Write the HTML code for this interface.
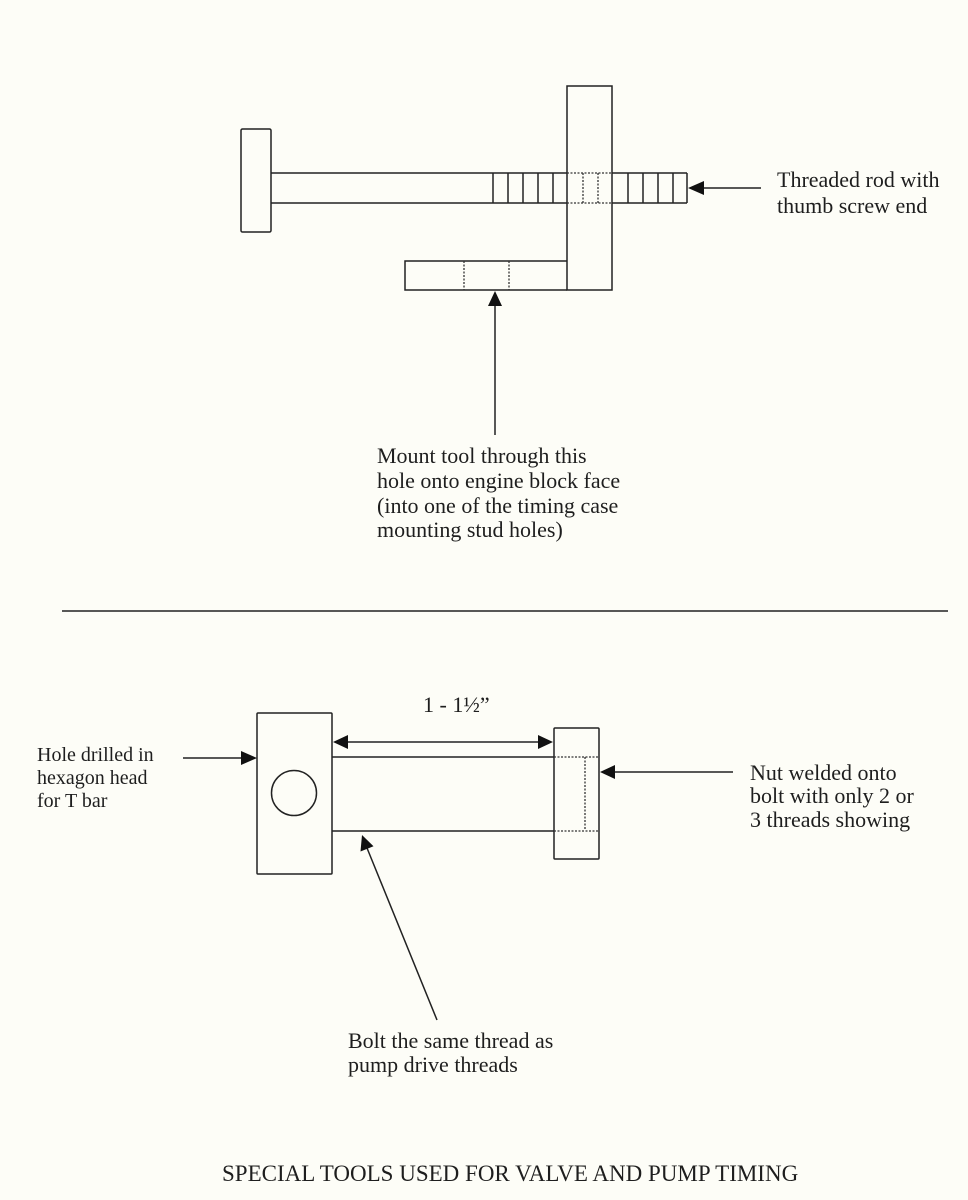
<!DOCTYPE html>
<html>
<head>
<meta charset="utf-8">
<style>
  html, body { margin: 0; padding: 0; background: #fdfdf7; }
  body { width: 968px; height: 1200px; overflow: hidden; }
  svg { display: block; }
  text { font-family: "Liberation Serif", "Times New Roman", serif; fill: #1e1e1e; }
</style>
</head>
<body>
<svg width="968" height="1200" viewBox="0 0 968 1200" xmlns="http://www.w3.org/2000/svg">
  <rect width="968" height="1200" fill="#fdfdf7"/>
  <g stroke="#222" stroke-width="1.5" fill="none">
    <!-- TOP TOOL -->
    <rect x="241" y="129" width="30" height="103" rx="1.5"/>
    <line x1="271" y1="173" x2="567" y2="173"/>
    <line x1="271" y1="203" x2="567" y2="203"/>
    <line x1="612" y1="173" x2="687" y2="173"/>
    <line x1="612" y1="203" x2="687" y2="203"/>
    <line x1="687" y1="173" x2="687" y2="203"/>
    <line x1="493" y1="173" x2="493" y2="203"/>
    <line x1="508" y1="173" x2="508" y2="203"/>
    <line x1="523" y1="173" x2="523" y2="203"/>
    <line x1="538" y1="173" x2="538" y2="203"/>
    <line x1="553" y1="173" x2="553" y2="203"/>
    <line x1="628" y1="173" x2="628" y2="203"/>
    <line x1="643" y1="173" x2="643" y2="203"/>
    <line x1="658" y1="173" x2="658" y2="203"/>
    <line x1="673" y1="173" x2="673" y2="203"/>
    <rect x="567" y="86" width="45" height="204"/>
    <polyline points="567,261 405,261 405,290 567,290"/>
  </g>
  <g stroke="#333" stroke-width="1.3" fill="none" stroke-dasharray="2,1.5">
    <line x1="567" y1="173" x2="612" y2="173"/>
    <line x1="567" y1="203" x2="612" y2="203"/>
    <line x1="583" y1="173" x2="583" y2="203"/>
    <line x1="598" y1="173" x2="598" y2="203"/>
    <line x1="464" y1="261" x2="464" y2="290"/>
    <line x1="509" y1="261" x2="509" y2="290"/>
  </g>
  <g stroke="#222" stroke-width="1.5">
    <line x1="700" y1="188" x2="761" y2="188"/>
    <line x1="495" y1="304" x2="495" y2="435"/>
  </g>
  <g fill="#111">
    <polygon points="688,188 704,181 704,195"/>
    <polygon points="495,291 488,306 502,306"/>
  </g>
  <text x="777" y="187" font-size="22">Threaded rod with</text>
  <text x="777" y="213" font-size="22">thumb screw end</text>

  <text font-size="22">
    <tspan x="377" y="463">Mount tool through this</tspan>
    <tspan x="377" y="488">hole onto engine block face</tspan>
    <tspan x="377" y="513">(into one of the timing case</tspan>
    <tspan x="377" y="537">mounting stud holes)</tspan>
  </text>

  <line x1="62" y1="611" x2="948" y2="611" stroke="#222" stroke-width="1.6"/>

  <!-- BOTTOM TOOL -->
  <g stroke="#222" stroke-width="1.5" fill="none">
    <rect x="257" y="713" width="75" height="161" rx="1"/>
    <circle cx="294" cy="793" r="22.5"/>
    <line x1="332" y1="757" x2="554" y2="757"/>
    <line x1="332" y1="831" x2="554" y2="831"/>
    <rect x="554" y="728" width="45" height="131" rx="1"/>
  </g>
  <g stroke="#333" stroke-width="1.3" fill="none" stroke-dasharray="2,1.5">
    <line x1="554" y1="757" x2="599" y2="757"/>
    <line x1="554" y1="831" x2="599" y2="831"/>
    <line x1="585" y1="757" x2="585" y2="829"/>
  </g>
  <g stroke="#222" stroke-width="1.5">
    <line x1="183" y1="758" x2="244" y2="758"/>
    <line x1="346" y1="742" x2="540" y2="742"/>
    <line x1="614" y1="772" x2="733" y2="772"/>
    <line x1="367" y1="848" x2="437" y2="1020"/>
  </g>
  <g fill="#111">
    <polygon points="257,758 241,751 241,765"/>
    <polygon points="333,742 348,735 348,749"/>
    <polygon points="553,742 538,735 538,749"/>
    <polygon points="600,772 615,765 615,779"/>
    <polygon points="362,835 360.5,851.5 373.5,846.3"/>
  </g>

  <text x="423" y="712" font-size="22">1 - 1½”</text>

  <text font-size="20">
    <tspan x="37" y="761">Hole drilled in</tspan>
    <tspan x="37" y="784">hexagon head</tspan>
    <tspan x="37" y="807">for T bar</tspan>
  </text>

  <text font-size="22">
    <tspan x="750" y="780">Nut welded onto</tspan>
    <tspan x="750" y="803">bolt with only 2 or</tspan>
    <tspan x="750" y="827">3 threads showing</tspan>
  </text>

  <text font-size="22">
    <tspan x="348" y="1048">Bolt the same thread as</tspan>
    <tspan x="348" y="1072">pump drive threads</tspan>
  </text>

  <text x="222" y="1181" font-size="23">SPECIAL TOOLS USED FOR VALVE AND PUMP TIMING</text>
</svg>
</body>
</html>
